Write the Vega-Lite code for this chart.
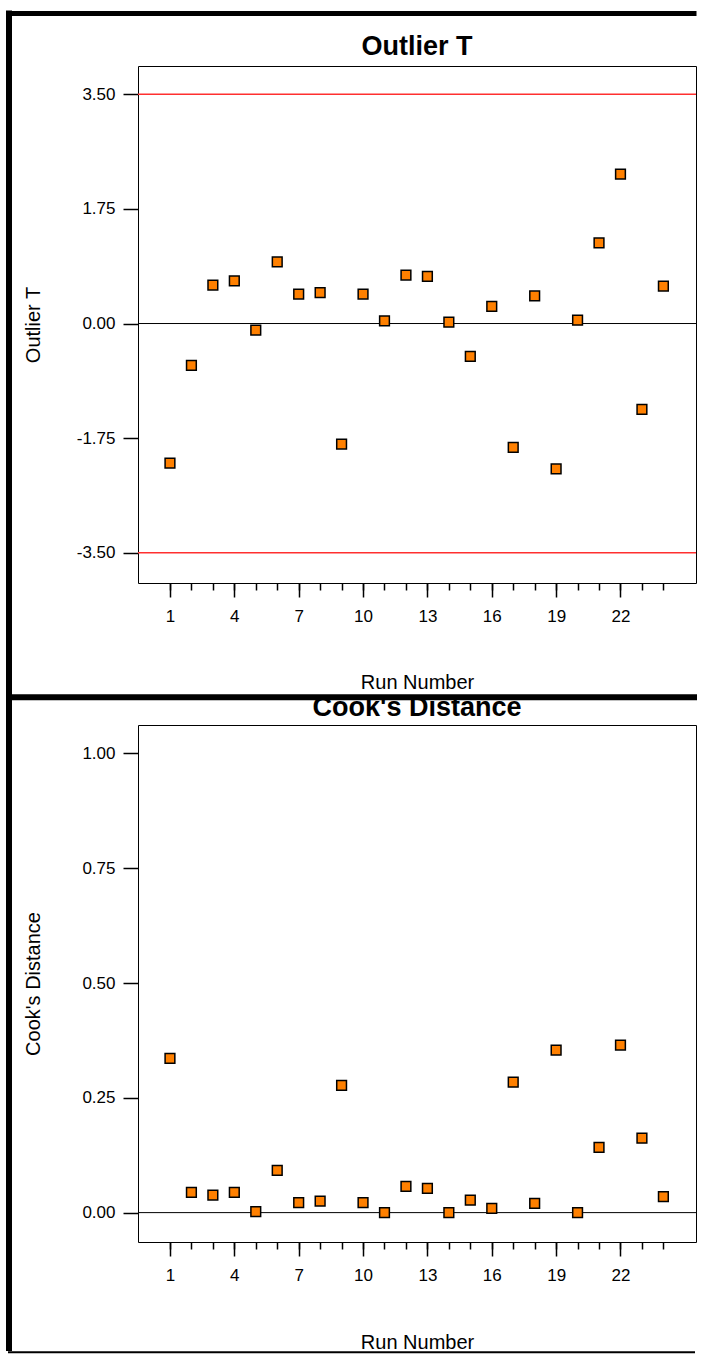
{
  "$schema": "https://vega.github.io/schema/vega-lite/v6.json",
  "background": "white",
  "padding": {"left": 4, "top": 8, "right": 0, "bottom": 0},
  "datasets": {
    "runs": [
      {"run": 1, "outlier_t": -2.13, "cooks": 0.336},
      {"run": 2, "outlier_t": -0.64, "cooks": 0.044},
      {"run": 3, "outlier_t": 0.585, "cooks": 0.038},
      {"run": 4, "outlier_t": 0.65, "cooks": 0.044},
      {"run": 5, "outlier_t": -0.1, "cooks": 0.002},
      {"run": 6, "outlier_t": 0.94, "cooks": 0.092},
      {"run": 7, "outlier_t": 0.45, "cooks": 0.022},
      {"run": 8, "outlier_t": 0.47, "cooks": 0.025},
      {"run": 9, "outlier_t": -1.84, "cooks": 0.277},
      {"run": 10, "outlier_t": 0.45, "cooks": 0.022},
      {"run": 11, "outlier_t": 0.04, "cooks": 0.0},
      {"run": 12, "outlier_t": 0.74, "cooks": 0.057},
      {"run": 13, "outlier_t": 0.72, "cooks": 0.053},
      {"run": 14, "outlier_t": 0.02, "cooks": 0.0},
      {"run": 15, "outlier_t": -0.5, "cooks": 0.027},
      {"run": 16, "outlier_t": 0.26, "cooks": 0.009},
      {"run": 17, "outlier_t": -1.89, "cooks": 0.284},
      {"run": 18, "outlier_t": 0.42, "cooks": 0.02},
      {"run": 19, "outlier_t": -2.22, "cooks": 0.354},
      {"run": 20, "outlier_t": 0.05, "cooks": 0.0},
      {"run": 21, "outlier_t": 1.23, "cooks": 0.142},
      {"run": 22, "outlier_t": 2.28, "cooks": 0.365},
      {"run": 23, "outlier_t": -1.31, "cooks": 0.162},
      {"run": 24, "outlier_t": 0.57, "cooks": 0.035}
    ]
  },
  "spacing": 142,
  "bounds": "flush",
  "vconcat": [
    {
      "width": 558,
      "height": 517,
      "title": {"text": "Outlier T", "offset": -52},
      "resolve": {"axis": {"x": "independent", "y": "independent"}},
      "layer": [
        {
          "data": {"values": [{}]},
          "mark": {"type": "rule", "color": "#000", "strokeWidth": 5, "strokeCap": "square"},
          "encoding": {
            "x": {"datum": -6.503, "type": "quantitative", "scale": {"domain": [-0.49, 25.52], "nice": false, "zero": false},
              "axis": {"orient": "bottom", "values": [1,2,3,4,5,6,7,8,9,10,11,12,13,14,15,16,17,18,19,20,21,22,23,24], "tickSize": 7, "labels": false, "title": null}},
            "x2": {"datum": 25.427},
            "y": {"datum": 4.731, "type": "quantitative", "scale": {"domain": [-3.96, 3.93], "nice": false, "zero": false}, "axis": null}
          }
        },
        {
          "data": {"values": [{}]},
          "mark": {"type": "rule", "color": "#000", "strokeWidth": 6, "strokeCap": "square"},
          "encoding": {
            "x": {"datum": -6.503, "type": "quantitative", "scale": {"domain": [-0.49, 25.52], "nice": false, "zero": false}, "axis": null},
            "x2": {"datum": 25.427},
            "y": {"datum": -5.704, "type": "quantitative", "scale": {"domain": [-3.96, 3.93], "nice": false, "zero": false}, "axis": null}
          }
        },
        {
          "data": {"values": [{}]},
          "mark": {"type": "rule", "color": "#000", "strokeWidth": 6, "strokeCap": "square"},
          "encoding": {
            "x": {"datum": -6.503, "type": "quantitative", "scale": {"domain": [-0.49, 25.52], "nice": false, "zero": false}, "axis": null},
            "y": {"datum": 4.731, "type": "quantitative", "scale": {"domain": [-3.96, 3.93], "nice": false, "zero": false}, "axis": null},
            "y2": {"datum": -5.704}
          }
        },
        {
          "data": {"values": [{"limit": 3.5}, {"limit": -3.5}]},
          "mark": {"type": "rule", "color": "#ff3030", "strokeWidth": 1.5},
          "encoding": {
            "y": {"field": "limit", "type": "quantitative", "scale": {"domain": [-3.96, 3.93], "nice": false, "zero": false}, "axis": null}
          }
        },
        {
          "data": {"values": [{}]},
          "mark": {"type": "rule", "color": "#000", "strokeWidth": 1},
          "encoding": {
            "y": {"datum": 0, "type": "quantitative", "scale": {"domain": [-3.96, 3.93], "nice": false, "zero": false}, "axis": null}
          }
        },
        {
          "data": {"name": "runs"},
          "mark": {"type": "point", "shape": "square", "filled": true, "fill": "#ff8000", "stroke": "#000", "strokeWidth": 1.5, "size": 95, "opacity": 1},
          "encoding": {
            "x": {"field": "run", "type": "quantitative", "scale": {"domain": [-0.49, 25.52], "nice": false, "zero": false},
              "axis": {"orient": "bottom", "values": [1,4,7,10,13,16,19,22], "format": "d", "tickSize": 14, "labelPadding": 11.5, "labelFlush": false, "labelOverlap": false,
                "title": "Run Number", "titleY": 105, "titleBaseline": "alphabetic"}},
            "y": {"field": "outlier_t", "type": "quantitative", "scale": {"domain": [-3.96, 3.93], "nice": false, "zero": false},
              "axis": {"orient": "left", "values": [-3.5, -1.75, 0, 1.75, 3.5], "tickSize": 15, "labelPadding": 8, "labelFlush": false, "labelOverlap": false,
                "labelExpr": "replace(format(datum.value, '.2f'), '\u2212', '-')",
                "title": "Outlier T", "titleX": -99, "titleY": 258.5, "titleBaseline": "alphabetic", "titleAngle": 270}}
          }
        }
      ]
    },
    {
      "width": 558,
      "height": 517,
      "title": {"text": "Cook's Distance", "offset": -29},
      "resolve": {"axis": {"x": "independent", "y": "independent"}},
      "layer": [
        {
          "data": {"values": [{}]},
          "mark": {"type": "rule", "color": "#000", "strokeWidth": 2, "strokeCap": "square"},
          "encoding": {
            "x": {"datum": -6.503, "type": "quantitative", "scale": {"domain": [-0.49, 25.52], "nice": false, "zero": false},
              "axis": {"orient": "bottom", "values": [1,2,3,4,5,6,7,8,9,10,11,12,13,14,15,16,17,18,19,20,21,22,23,24], "tickSize": 7, "labels": false, "title": null}},
            "x2": {"datum": 25.427},
            "y": {"datum": -0.3042, "type": "quantitative", "scale": {"domain": [-0.064, 1.062], "nice": false, "zero": false}, "axis": null}
          }
        },
        {
          "data": {"values": [{}]},
          "mark": {"type": "rule", "color": "#000", "strokeWidth": 6, "strokeCap": "square"},
          "encoding": {
            "x": {"datum": -6.503, "type": "quantitative", "scale": {"domain": [-0.49, 25.52], "nice": false, "zero": false}, "axis": null},
            "y": {"datum": 1.1223, "type": "quantitative", "scale": {"domain": [-0.064, 1.062], "nice": false, "zero": false}, "axis": null},
            "y2": {"datum": -0.2949}
          }
        },
        {
          "data": {"values": [{}]},
          "mark": {"type": "rule", "color": "#000", "strokeWidth": 1},
          "encoding": {
            "y": {"datum": 0, "type": "quantitative", "scale": {"domain": [-0.064, 1.062], "nice": false, "zero": false}, "axis": null}
          }
        },
        {
          "data": {"name": "runs"},
          "mark": {"type": "point", "shape": "square", "filled": true, "fill": "#ff8000", "stroke": "#000", "strokeWidth": 1.5, "size": 95, "opacity": 1},
          "encoding": {
            "x": {"field": "run", "type": "quantitative", "scale": {"domain": [-0.49, 25.52], "nice": false, "zero": false},
              "axis": {"orient": "bottom", "values": [1,4,7,10,13,16,19,22], "format": "d", "tickSize": 14, "labelPadding": 11.5, "labelFlush": false, "labelOverlap": false,
                "title": "Run Number", "titleY": 106, "titleBaseline": "alphabetic"}},
            "y": {"field": "cooks", "type": "quantitative", "scale": {"domain": [-0.064, 1.062], "nice": false, "zero": false},
              "axis": {"orient": "left", "values": [0, 0.25, 0.5, 0.75, 1], "tickSize": 15, "labelPadding": 8, "labelFlush": false, "labelOverlap": false,
                "labelExpr": "format(datum.value, '.2f')",
                "title": "Cook's Distance", "titleX": -99, "titleY": 258.5, "titleBaseline": "alphabetic", "titleAngle": 270}}
          }
        }
      ]
    }
  ],
  "config": {
    "view": {"stroke": "#000", "strokeWidth": 1},
    "font": "Liberation Sans",
    "axis": {
      "labelFont": "Liberation Sans", "titleFont": "Liberation Sans",
      "labelColor": "#000", "titleColor": "#000", "tickColor": "#000",
      "labelFontSize": 17, "titleFontSize": 20, "titleFontWeight": "normal",
      "grid": false, "domain": false, "tickWidth": 1.5
    },
    "title": {"font": "Liberation Sans", "fontSize": 27, "fontWeight": "bold", "color": "#000", "frame": "group", "baseline": "alphabetic", "anchor": "middle"}
  }
}
